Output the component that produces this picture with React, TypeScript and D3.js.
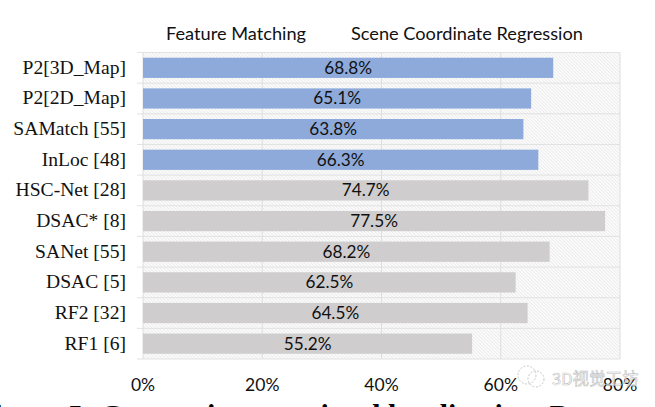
import React from 'react';
import * as d3 from 'd3';

const methods = ['P2[3D_Map]', 'P2[2D_Map]', 'SAMatch [55]', 'InLoc [48]', 'HSC-Net [28]', 'DSAC* [8]', 'SANet [55]', 'DSAC [5]', 'RF2 [32]', 'RF1 [6]'];
const accuracy = [68.8, 65.1, 63.8, 66.3, 74.7, 77.5, 68.2, 62.5, 64.5, 55.2];
const groups = ['fm', 'fm', 'fm', 'fm', 'scr', 'scr', 'scr', 'scr', 'scr', 'scr'];
const xTicks = [0, 20, 40, 60, 80];

const App: React.FC = () => {
  const width = 655;
  const height = 407;
  const left = 143;
  const right = 620;
  const top = 52.5;
  const bottom = 359;

  const x = d3.scaleLinear().domain([0, 80]).range([left, right]);
  const y = d3.scaleBand<string>().domain(methods).range([top, bottom]).paddingInner(0.34).paddingOuter(0.17);
  const step = y.step();
  const color = d3.scaleOrdinal<string>().domain(['fm', 'scr']).range(['#8eaadb', '#cfcdcd']);
  const lines = d3.range(methods.length + 1).map(i => top + i * step);

  return (
    <svg width={width} height={height} style={{ position: 'absolute', left: 0, top: 0, background: '#fff' }}>
      <defs>
        <pattern id="hatch" width="2.4" height="2.4" patternUnits="userSpaceOnUse" patternTransform="rotate(-45)">
          <rect width="2.4" height="2.4" fill="#fbfbfb" />
          <line x1="0" y1="0" x2="0" y2="2.4" stroke="#e0e0e0" strokeWidth="1" />
        </pattern>
      </defs>

      <rect x={left} y={top} width={right - left} height={bottom - top} fill="url(#hatch)" />

      {lines.map((v, i) => (
        <line key={i} x1={left - 6} x2={right} y1={v} y2={v} stroke="#e2e2e2" strokeWidth="1" />
      ))}
      {xTicks.map(t => (
        <line key={t} x1={x(t)} x2={x(t)} y1={top} y2={bottom} stroke="#dedede" strokeWidth="1" />
      ))}

      {methods.map((m, i) => (
        <rect key={m} x={left} y={y(m)} width={x(accuracy[i]) - left} height={y.bandwidth()} fill={color(groups[i])} />
      ))}

      {methods.map((m, i) => (
        <text key={m} x={(left + x(accuracy[i])) / 2} y={y(m)! + y.bandwidth() / 2 + 6} textAnchor="middle"
          fontFamily="Lato" fontSize="17.2" fill="#111">
          {accuracy[i].toFixed(1)}%
        </text>
      ))}

      {methods.map(m => (
        <text key={m} x={126} y={y(m)! + y.bandwidth() / 2 + 6} textAnchor="end"
          fontFamily="Liberation Serif" fontSize="19.6" fill="#111">
          {m}
        </text>
      ))}

      {xTicks.map(t => (
        <text key={t} x={x(t)} y={391} textAnchor="middle" fontFamily="Lato" fontSize="17.5" fill="#111">
          {t}%
        </text>
      ))}

      <text x={166} y={40} fontFamily="Lato" fontSize="18.2" fill="#111">Feature Matching</text>
      <text x={351} y={40} fontFamily="Lato" fontSize="18.2" fill="#111">Scene Coordinate Regression</text>

      {/* watermark over the last tick */}
      <g fill="none" stroke="#c8c8c8" strokeWidth="1" strokeDasharray="2 1.5">
        <circle cx={527} cy={375} r={9} />
        <circle cx={536} cy={379} r={8} />
      </g>
      <text x={552} y={385} fontFamily="Noto Sans CJK SC" fontSize="16.5" fill="#fff" fillOpacity="0.6" stroke="#bdbdbd" strokeWidth="0.6">
        3D视觉工坊
      </text>

      {/* caption runs off the bottom and left edges, same as the source crop */}
      <text x={-24} y={425} fontFamily="Liberation Serif" fontWeight="bold" fontSize="30" fill="#000">
        Figure 5: Comparison on visual localization. Percent
      </text>
    </svg>
  );
};

export default App;
